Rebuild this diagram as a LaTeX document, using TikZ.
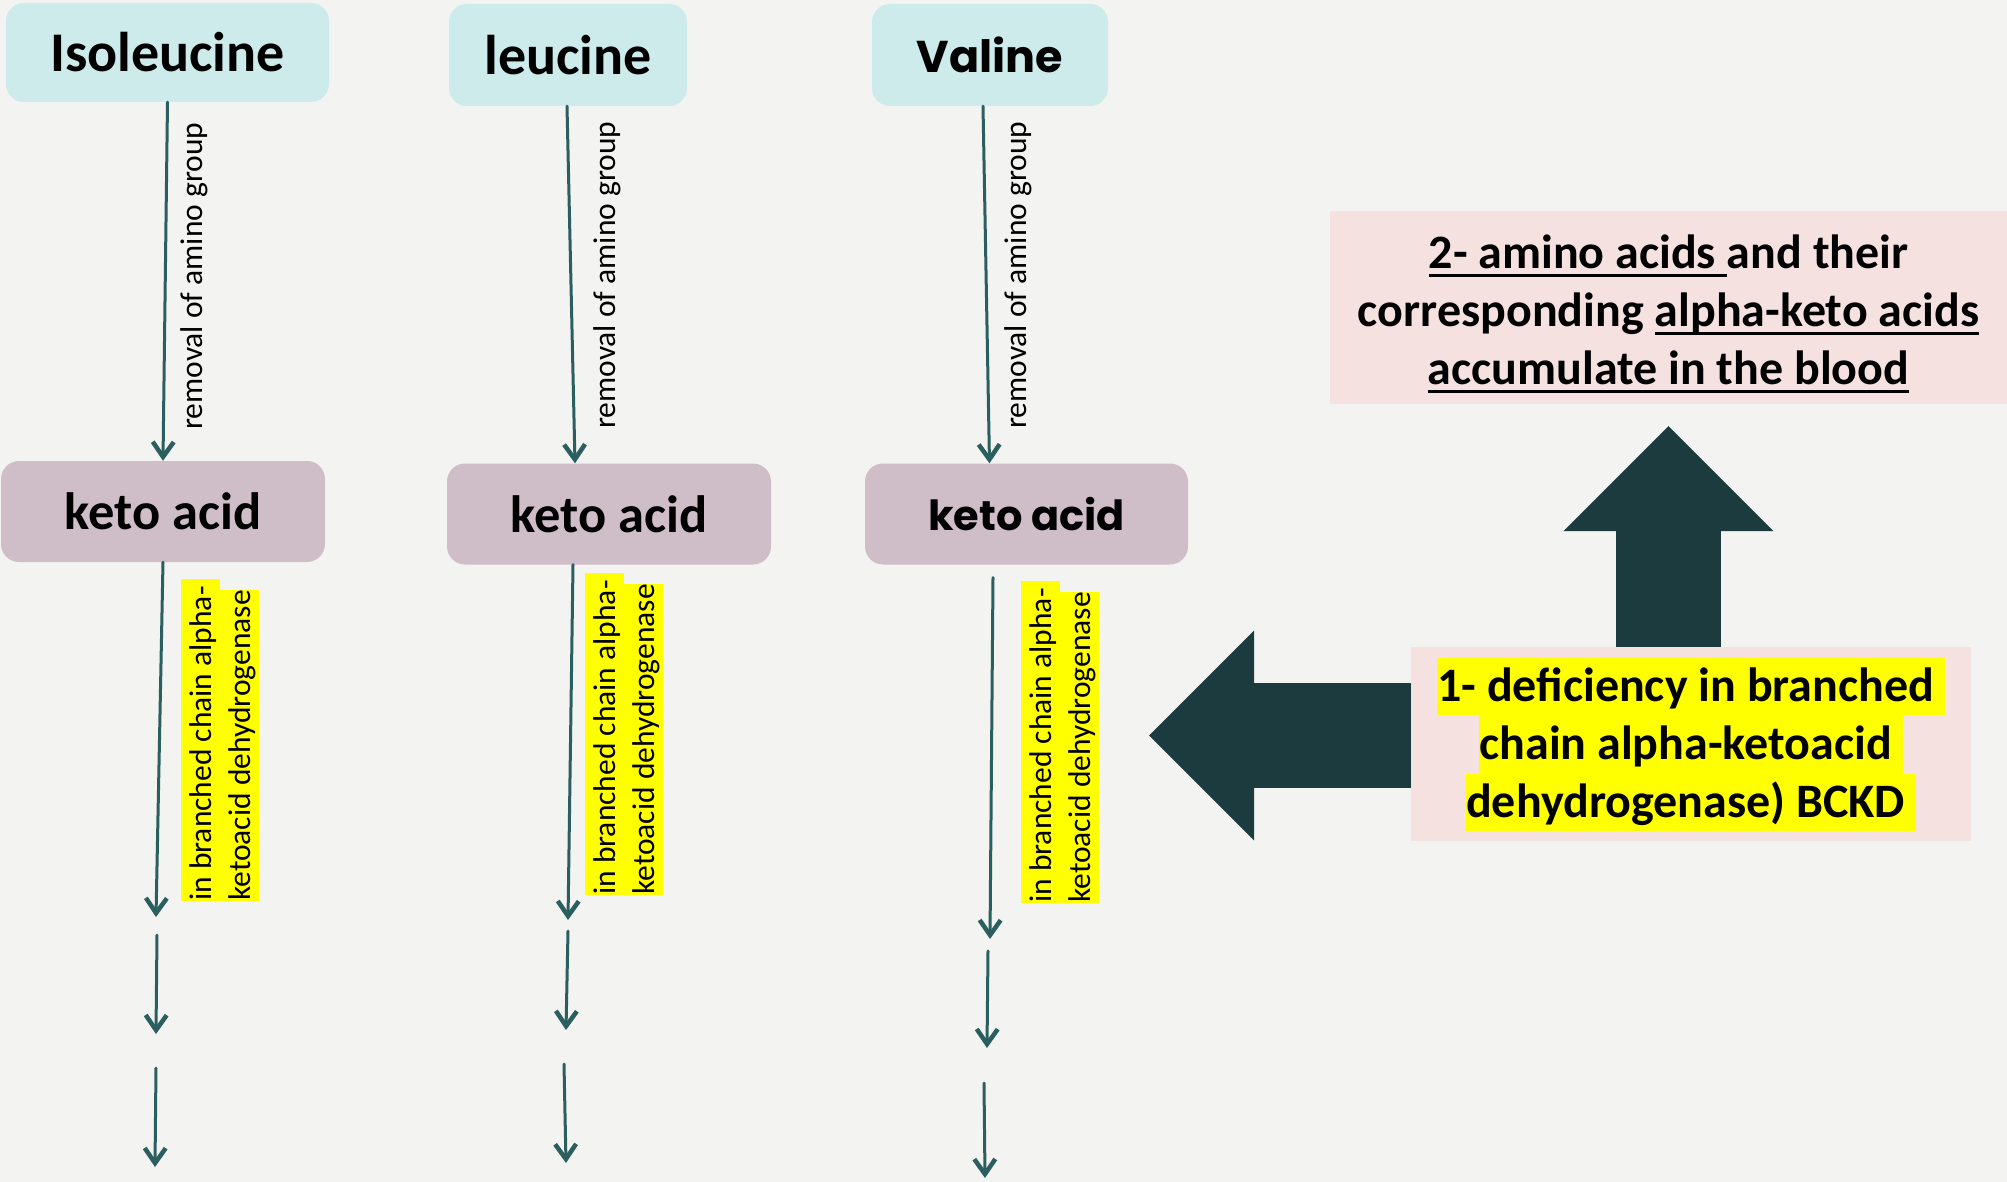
\documentclass[tikz,border=0pt]{standalone}
\usepackage{fontspec}
\setmainfont{Carlito}
\newfontfamily\popfont{Poppins}
\usetikzlibrary{arrows.meta,calc}
\definecolor{bgcol}{HTML}{F3F3F1}
\definecolor{aminocol}{HTML}{CDEBEB}
\definecolor{ketocol}{HTML}{CFBEC8}
\definecolor{pinkcol}{HTML}{F6E1E1}
\definecolor{linecol}{HTML}{2A5E5F}
\definecolor{blockcol}{HTML}{1B3B3F}
\definecolor{hlcol}{HTML}{FFFF00}
\setlength{\fboxsep}{0pt}
\newlength{\ulwd}
\newcommand{\uln}[1]{\settowidth{\ulwd}{#1}\rlap{\rule[-8.5pt]{\ulwd}{2.6pt}}#1}
\newcommand{\hly}[1]{\colorbox{hlcol}{\rule[-13pt]{0pt}{57pt}#1}}
\newcommand{\hle}[1]{\colorbox{hlcol}{\rule[-9pt]{0pt}{39pt}#1}}
\begin{document}
\begin{tikzpicture}[line join=round, line cap=round, x=1pt, y=-1pt]
    \tikzset{amino/.style={rectangle, rounded corners=18pt, fill=aminocol, inner sep=0pt, font=\fontsize{56}{60}\selectfont\bfseries},
        keto/.style={rectangle, rounded corners=18pt, fill=ketocol, inner sep=0pt, minimum height=101pt, font=\fontsize{52.5}{60}\selectfont\bfseries},
        flow/.style={draw=linecol, line width=3pt, -{Straight Barb[length=15pt,width=21pt,line width=4.5pt]}},
        note/.style={rotate=90, inner sep=0pt, anchor=base west, font=\fontsize{31.5}{36}\selectfont},
        enz/.style={rotate=90, inner sep=0pt, anchor=north west, align=left, font=\fontsize{31.5}{39}\selectfont},
        pinkbox/.style={rectangle, fill=pinkcol, inner sep=0pt, align=center, font=\fontsize{48}{58}\selectfont\bfseries},
        bigarrow/.style={draw=blockcol, line width=105pt, line cap=butt, -{Triangle[length=105pt,width=210pt,line width=0pt]}}}
    \path[use as bounding box, fill=bgcol] (0,0) rectangle (2007,1182);
    % amino acids and keto acids
    \node[amino, minimum width=323pt, minimum height=99pt] (iso) at (167.5,52.5) {Isoleucine};
    \node[amino, minimum width=238pt, minimum height=102pt] (leu) at (568,55) {leucine};
    \node[amino, minimum width=236pt, minimum height=102pt, font=\fontsize{44.5}{52}\popfont\bfseries] (val) at (990,55) {Valine};
    \node[keto, minimum width=324pt] (keto1) at (163,511.5) {keto acid};
    \node[keto, minimum width=324pt] (keto2) at (609,514) {keto acid};
    \node[keto, minimum width=323pt, font=\fontsize{41.5}{50}\popfont\bfseries] (keto3) at (1026.5,514) {keto acid};
    % first step
    \draw[flow] (iso.south) -- (keto1.north);
    \draw[flow] ([xshift=-1pt]leu.south) -- ([xshift=-34pt]keto2.north);
    \draw[flow] ([xshift=-7pt]val.south) -- ([xshift=-37pt]keto3.north);
    \node[note] (rm1) at (202,430) {removal of amino group};
    \node[note] (rm2) at (615,429) {removal of amino group};
    \node[note] (rm3) at (1026,429) {removal of amino group};
    % second step
    \coordinate (e1) at (156,917);
    \coordinate (e2) at (568,920);
    \coordinate (e3) at (990,939);
    \draw[flow] (keto1.south) -- (e1);
    \draw[flow] ([xshift=-36pt]keto2.south) -- (e2);
    \draw[flow] ([xshift=-33.5pt,yshift=-13pt]keto3.south) -- (e3);
    \node[enz] (bc1) at (181,901) {\hle{in branched chain alpha- }\\\hle{ketoacid dehydrogenase}};
    \node[enz] (bc2) at (585,895) {\hle{in branched chain alpha- }\\\hle{ketoacid dehydrogenase}};
    \node[enz] (bc3) at (1021,903) {\hle{in branched chain alpha- }\\\hle{ketoacid dehydrogenase}};
    % further steps
    \coordinate (f1a) at (157,935);  \coordinate (f1b) at (156,1034);
    \coordinate (f2a) at (568,931);  \coordinate (f2b) at (566,1030);
    \coordinate (f3a) at (988,951);  \coordinate (f3b) at (987,1048);
    \coordinate (g1a) at (156,1068); \coordinate (g1b) at (155,1167);
    \coordinate (g2a) at (564,1064); \coordinate (g2b) at (566,1163);
    \coordinate (g3a) at (984,1083); \coordinate (g3b) at (985,1178);
    \foreach \c in {1,2,3} {
        \draw[flow] (f\c a) -- (f\c b);
        \draw[flow] (g\c a) -- (g\c b);
    }
    % right side
    \node[pinkbox, minimum width=677pt, minimum height=193pt] (acc) at (1668.5,307.5) {\rule{0pt}{46pt}\uln{2- amino acids }and their\\corresponding \uln{alpha-keto acids}\\\uln{accumulate in the blood}};
    \node[pinkbox, minimum width=560pt, minimum height=194pt] (def) at (1691,744) {\hly{1- deficiency in branched }\\\hly{chain alpha-ketoacid }\\\hly{dehydrogenase) BCKD }};
    \coordinate (tipk) at (1149,735.5);
    \draw[bigarrow] (def.north -| acc.south) -- ([yshift=-22pt]acc.south);
    \draw[bigarrow] ([yshift=8.5pt]def.west) -- (tipk);
\end{tikzpicture}
\end{document}
